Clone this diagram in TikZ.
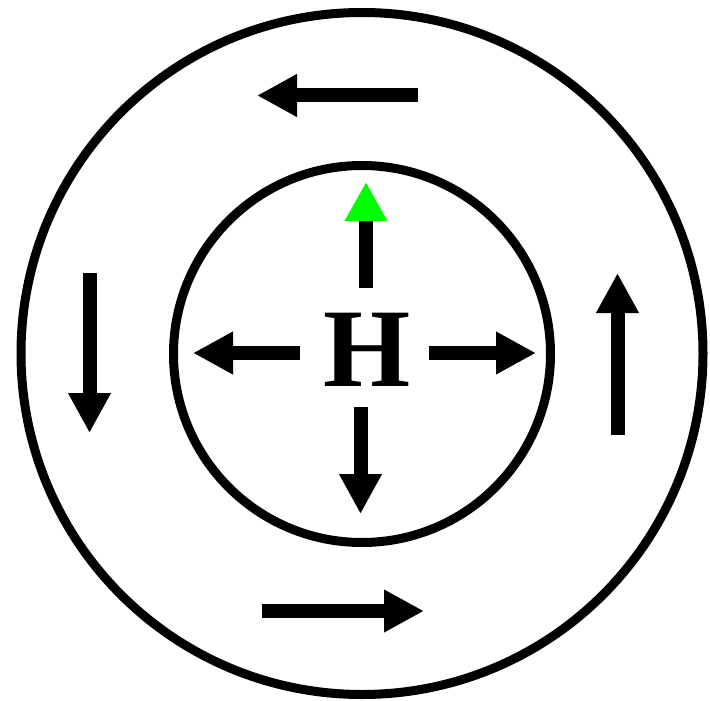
\documentclass[tikz,border=0pt]{standalone}
\usepackage{fontspec}
\setmainfont{Liberation Serif}
\usetikzlibrary{arrows.meta}
\definecolor{tipgreen}{RGB}{0,255,0}
\tikzset{
  ring/.style={circle, draw=black, line width=9pt, inner sep=0pt, minimum size=#1},
  flow/.style={line width=14pt, line cap=butt, -{Triangle[width=40pt,length=40pt]}},
  greenflow/.style={line width=14pt, line cap=butt, -{Triangle[width=40pt,length=39pt,color=tipgreen]}},
  label/.style={inner sep=0pt, font=\bfseries\fontsize{112}{112}\selectfont}
}
\begin{document}
\begin{tikzpicture}[x=1pt,y=-1pt]
\useasboundingbox (0,0) rectangle (710,701);
\node[ring=682pt] (outer) at (362,353.5) {};
\node[ring=377pt] (inner) at (362,354) {};
\node[label] (H) at (367.5,350) {H};
% inner arrows
\coordinate (gS) at (366,288); \coordinate (gE) at (366,182);
\coordinate (lS) at (300,353); \coordinate (lE) at (193,353);
\coordinate (rS) at (429,353); \coordinate (rE) at (536,353);
\coordinate (dS) at (360.5,407); \coordinate (dE) at (360.5,514);
% outer arrows
\coordinate (tS) at (418,95.5); \coordinate (tE) at (257,95.5);
\coordinate (eS) at (617.5,435); \coordinate (eE) at (617.5,273);
\coordinate (wS) at (89.5,273); \coordinate (wE) at (89.5,433);
\coordinate (bS) at (262,611); \coordinate (bE) at (424,611);
\draw[greenflow] (gS) -- (gE);
\draw[flow] (lS) -- (lE);
\draw[flow] (rS) -- (rE);
\draw[flow] (dS) -- (dE);
\draw[flow] (tS) -- (tE);
\draw[flow] (eS) -- (eE);
\draw[flow] (wS) -- (wE);
\draw[flow] (bS) -- (bE);
\end{tikzpicture}
\end{document}
